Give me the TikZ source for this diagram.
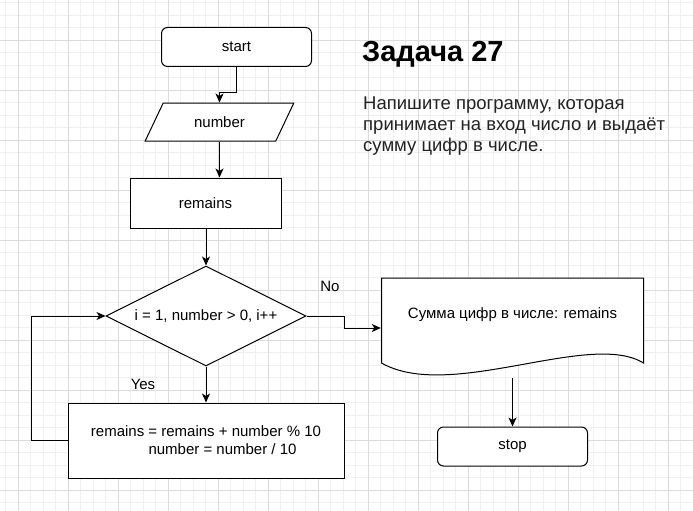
\documentclass[tikz,border=0pt]{standalone}
\usepackage{fontspec}
\setmainfont{Liberation Sans}
\usetikzlibrary{arrows.meta,shapes.geometric}

\definecolor{gridminor}{HTML}{F0F0F0}
\definecolor{gridmajor}{HTML}{DCDCDC}
\definecolor{textgray}{HTML}{222222}

\begin{document}
\begin{tikzpicture}[x=1pt,y=-1pt,
  every node/.style={font=\fontsize{15}{18}\selectfont},
  line/.style={line width=1pt,draw=black},
  arrow/.style={line,-{Stealth[length=9pt,width=8pt,inset=2.5pt]}},
  box/.style={line,rectangle,minimum width=151pt,minimum height=50pt,inner sep=2pt},
  term/.style={line,rectangle,rounded corners=6pt,minimum width=150pt,minimum height=39pt},
  io/.style={line,trapezium,trapezium left angle=57,trapezium right angle=123,
    trapezium stretches=true,minimum width=149pt,minimum height=38pt,inner sep=1pt},
  cond/.style={line,diamond,aspect=2,minimum width=200pt,minimum height=100pt,inner sep=1pt},
  doc/.style={draw=none,minimum width=263pt,minimum height=100pt}
]

\useasboundingbox (0,0) rectangle (693,511);
\fill[white] (0,0) rectangle (693,511);

% background grid
\foreach \x in {5.5,18,...,693} \draw[gridminor,line width=0.6pt] (\x,0) -- (\x,511);
\foreach \y in {2.5,15,...,511} \draw[gridminor,line width=0.6pt] (0,\y) -- (693,\y);
\foreach \x in {18,68,...,693} \draw[gridmajor,line width=0.6pt] (\x,0) -- (\x,511);
\foreach \y in {40,90,...,511} \draw[gridmajor,line width=0.6pt] (0,\y) -- (693,\y);

\node[term,fill=white] (start) at (236.5,47) {start};
\node[io,fill=white] (number) at (219.5,122) {number};
\node[box,fill=white] (remains) at (205.5,203) {remains};
\node[cond,fill=white] (loop) at (206,316) {i = 1, number > 0, i++};
\node[box,fill=white,minimum width=276pt,minimum height=75pt,align=center,
  font=\fontsize{15}{18}\selectfont] (body) at (206,440.5)
  {remains = remains + number \% 10\\\hspace*{33pt}number = number / 10};

% document shape
\node[doc] (sum) at (512.5,328) {};
\draw[line,fill=white] (381.5,363) -- (381.5,278) -- (643.5,278) -- (643.5,363)
  .. controls (590,330) and (450,402) .. (381.5,363) -- cycle;
\node (sumtext) at ([yshift=13pt]sum.center) {Сумма цифр в числе: remains};

\node[term,fill=white] (stop) at (512.5,446.5) {stop};

\node (yes) at (143,384) {Yes};
\node (no) at (330,286) {No};

\draw[arrow] (start.south) -- ++(0,25) -| (number.north);
\draw[arrow] (number.south) -- (number.south |- remains.north);
\draw[arrow] (loop.north |- remains.south) -- (loop.north);
\draw[arrow] (loop.south) -- (body.north);
\draw[arrow] (body.west) -- ++(-36,0) |- (loop.west);
\draw[arrow] (loop.east) -- ++(38,0) |- (sum.west);
\draw[arrow] (sum.south) -- (stop.north);

% task text
\node[anchor=base west,inner sep=0pt,font=\fontsize{29}{32}\selectfont\bfseries]
  (title) at (362,62) {Задача 27};
\node[anchor=west,inner sep=0pt,align=left,text=textgray,
  font=\fontsize{18.5}{21}\selectfont] (task) at (363,126)
  {Напишите программу, которая\\принимает на вход число и выдаёт\\сумму цифр в числе.};

\end{tikzpicture}
\end{document}
